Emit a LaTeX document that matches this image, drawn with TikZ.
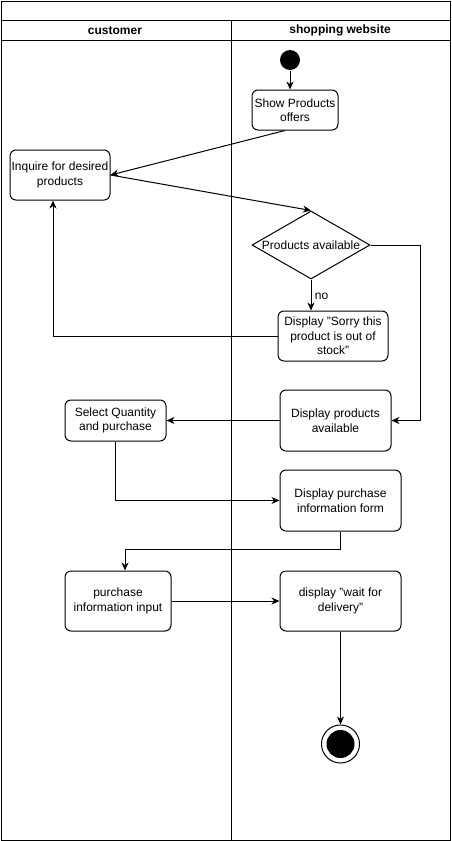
\documentclass[tikz,border=0pt]{standalone}
\usepackage{fontspec}
\setmainfont{Liberation Sans}
\usetikzlibrary{shapes.geometric,arrows.meta}

\begin{document}
\begin{tikzpicture}[x=1pt,y=-1pt,line width=1pt,>={Stealth[length=8pt,width=7pt,inset=2.5pt]},
  font=\fontsize{12}{14.5}\selectfont,
  act/.style={draw,rounded corners=6pt,align=center,inner sep=0pt}]
\useasboundingbox (0,0) rectangle (451,841);
\draw (1,1) rectangle (450,840);
\draw (1,20.5) -- (450,20.5);
\draw (1,40.5) -- (450,40.5);
\draw (231,20.5) -- (231,840);
\node[font=\fontsize{12}{14.5}\selectfont\bfseries] (cust) at (115,30.5) {customer};
\node[font=\fontsize{12}{14.5}\selectfont\bfseries] (shop) at (340,30.5) {shopping website};
\node[circle,fill,inner sep=0pt,minimum size=20pt] (st) at (290,60) {};
\node[act,minimum width=86pt,minimum height=40pt] (show) at (295,110) {Show Products\\offers};
\node[act,minimum width=100pt,minimum height=50pt] (inq) at (60,175) {Inquire for desired\\products};
\node[diamond,draw,aspect=1.735,inner sep=0pt,minimum width=118pt,minimum height=68pt,
  label=center:{Products available}] (chk) at (311,245) {};
\node[act,minimum width=110pt,minimum height=50pt] (sorry) at (333,336) {Display "Sorry this\\product is out of\\stock"};
\node[act,minimum width=111pt,minimum height=61pt] (avail) at (335.5,420.5) {Display products\\available};
\node[act,minimum width=101pt,minimum height=41pt] (sel) at (115.5,420.5) {Select Quantity\\and purchase};
\node[act,minimum width=121pt,minimum height=61pt] (form) at (340.5,500.5) {Display purchase\\information form};
\node[act,minimum width=106pt,minimum height=60pt] (input) at (118,601) {purchase\\information input};
\node[act,minimum width=121pt,minimum height=60pt] (wait) at (340.5,601) {display "wait for\\delivery"};
\node[circle,draw,inner sep=0pt,minimum size=38pt] (end) at (340.5,744) {};
\node[circle,fill,inner sep=0pt,minimum size=28pt] (endin) at (end) {};
\draw[->] (st) -- (st |- show.north);
\draw[->] ([xshift=-10pt]show.south) -- (inq.east);
\draw[->] (inq.east) -- (chk.north);
\draw[->] (chk.east) -- ++(50,0) |- (avail.east);
\draw[->] (chk.south) -- node[right,pos=0.55] {no} (chk.south |- sorry.north);
\draw[->] (sorry.west) -| ([xshift=-7pt]inq.south);
\draw[->] (avail.west) -- (sel.east);
\draw[->] (sel.south) |- (form.west);
\draw[->] (form.south) -- ++(0,18) -| ([xshift=7pt]input.north);
\draw[->] (input.east) -- (wait.west);
\draw[->] (wait.south) -- (end.north);
\end{tikzpicture}
\end{document}
